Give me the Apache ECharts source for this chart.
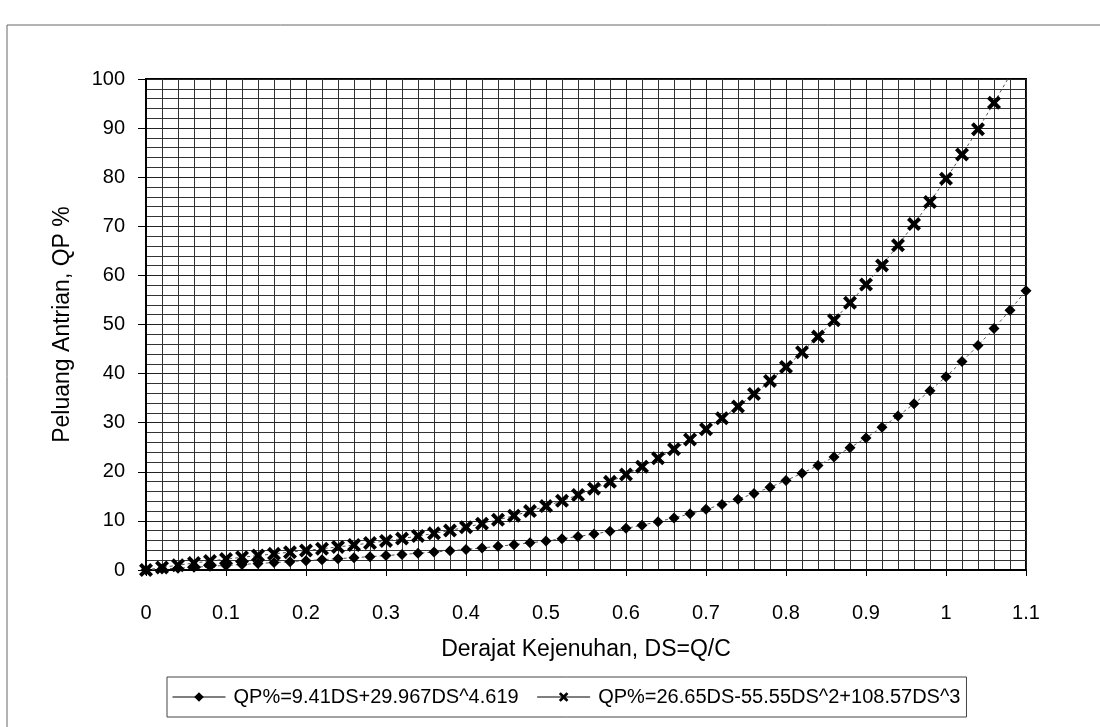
<!DOCTYPE html>
<html>
<head>
<meta charset="utf-8">
<script src="https://cdn.jsdelivr.net/npm/echarts@6/dist/echarts.min.js"></script>
<style>
  html, body { margin: 0; padding: 0; background: #fff; }
  #chart { width: 1100px; height: 727px; }
</style>
</head>
<body>
<div id="chart"></div>
<script>
// Degree of saturation (DS) sample points for each curve
const dsA = [0,0.02,0.04,0.06,0.08,0.10,0.12,0.14,0.16,0.18,0.20,0.22,0.24,0.26,0.28,0.30,0.32,0.34,0.36,0.38,0.40,0.42,0.44,0.46,0.48,0.50,0.52,0.54,0.56,0.58,0.60,0.62,0.64,0.66,0.68,0.70,0.72,0.74,0.76,0.78,0.80,0.82,0.84,0.86,0.88,0.90,0.92,0.94,0.96,0.98,1.00,1.02,1.04,1.06,1.08,1.10];
const qpA = [0,0.19,0.38,0.56,0.75,0.94,1.13,1.32,1.51,1.70,1.90,2.10,2.30,2.51,2.72,2.94,3.17,3.40,3.65,3.92,4.20,4.50,4.82,5.16,5.53,5.92,6.36,6.82,7.33,7.88,8.48,9.13,9.84,10.61,11.45,12.36,13.35,14.42,15.59,16.85,18.22,19.70,21.30,23.02,24.89,26.89,29.05,31.36,33.85,36.52,39.38,42.44,45.71,49.20,52.92,56.89];

const dsB = [0,0.02,0.04,0.06,0.08,0.10,0.12,0.14,0.16,0.18,0.20,0.22,0.24,0.26,0.28,0.30,0.32,0.34,0.36,0.38,0.40,0.42,0.44,0.46,0.48,0.50,0.52,0.54,0.56,0.58,0.60,0.62,0.64,0.66,0.68,0.70,0.72,0.74,0.76,0.78,0.80,0.82,0.84,0.86,0.88,0.90,0.92,0.94,0.96,0.98,1.00,1.02,1.04,1.06];
const qpB = [0,0.51,0.98,1.42,1.83,2.22,2.59,2.94,3.29,3.63,3.98,4.33,4.70,5.08,5.49,5.93,6.40,6.91,7.46,8.06,8.72,9.44,10.22,11.07,12.00,13.01,14.10,15.29,16.57,17.95,19.44,21.05,22.76,24.61,26.58,28.68,30.92,33.30,35.83,38.51,41.36,44.36,47.54,50.89,54.42,58.14,62.04,66.14,70.45,74.95,79.67,84.61,89.76,95.14];

// Continuation of the cubic curve past its last point, up to the top edge
const dsBTail = [1.06, 1.08];
const qpBTail = [95.14, 100.77];

const nameA = 'QP%=9.41DS+29.967DS^4.619';
const nameB = 'QP%=26.65DS-55.55DS^2+108.57DS^3';
const xTitle = 'Derajat Kejenuhan, DS=Q/C';
const yTitle = 'Peluang Antrian, QP %';

const FONT = '"Liberation Sans", Arial, sans-serif';
const pairs = (xs, ys) => xs.map((x, i) => [x, ys[i]]);

const crossPath = 'path://M0,2 L2,0 L5,3 L8,0 L10,2 L7,5 L10,8 L8,10 L5,7 L2,10 L0,8 L3,5 Z';

const chart = echarts.init(document.getElementById('chart'), null, { renderer: 'canvas' });

chart.setOption({
  animation: false,
  backgroundColor: '#fff',
  textStyle: { fontFamily: FONT, color: '#000' },
  graphic: [{
    type: 'rect',
    shape: { x: 7, y: 25, width: 1200, height: 800 },
    style: { fill: 'none', stroke: '#666', lineWidth: 1 },
    silent: true,
    z: -1
  }],
  grid: {
    left: 146, right: 74, top: 79, bottom: 157,
    show: true,
    borderColor: '#000',
    borderWidth: 2,
    backgroundColor: '#fff'
  },
  legend: {
    left: 167, top: 677,
    orient: 'horizontal',
    borderColor: '#444', borderWidth: 1,
    padding: [10, 6, 10, 5],
    itemWidth: 53, itemHeight: 12, itemGap: 18,
    lineStyle: { color: '#000', width: 1, type: 'solid' },
    textStyle: { fontFamily: FONT, fontSize: 20, color: '#000', padding: [0, 0, 0, 3] },
    data: [nameA, nameB]
  },
  xAxis: {
    type: 'value',
    min: 0, max: 1.1, interval: 0.1,
    name: xTitle,
    nameLocation: 'middle',
    nameGap: 68,
    nameTextStyle: { fontFamily: FONT, fontSize: 23, color: '#000' },
    axisLine: { show: true, lineStyle: { color: '#000', width: 2 } },
    axisTick: { show: true, inside: false, length: 6, lineStyle: { color: '#000' } },
    axisLabel: { fontFamily: FONT, fontSize: 20, color: '#000', margin: 33 },
    splitLine: { show: true, lineStyle: { color: '#222', width: 1 } },
    minorTick: { show: false, splitNumber: 5 },
    minorSplitLine: { show: true, lineStyle: { color: '#333', width: 1 } }
  },
  yAxis: {
    type: 'value',
    min: 0, max: 100, interval: 10,
    name: yTitle,
    nameLocation: 'middle',
    nameGap: 72,
    nameRotate: 90,
    nameTextStyle: { fontFamily: FONT, fontSize: 23, color: '#000' },
    axisLine: { show: true, lineStyle: { color: '#000', width: 2 } },
    axisTick: { show: true, inside: false, length: 8, lineStyle: { color: '#000' } },
    axisLabel: { fontFamily: FONT, fontSize: 20, color: '#000', margin: 21 },
    splitLine: { show: true, lineStyle: { color: '#222', width: 1 } },
    minorTick: { show: false, splitNumber: 5 },
    minorSplitLine: { show: true, lineStyle: { color: '#333', width: 1 } }
  },
  series: [
    {
      name: nameA,
      type: 'line',
      data: pairs(dsA, qpA),
      symbol: 'diamond',
      symbolSize: 11,
      itemStyle: { color: '#000' },
      lineStyle: { color: '#555', width: 1, type: [3, 3] },
      clip: true,
      z: 3
    },
    {
      name: nameB,
      type: 'line',
      data: pairs(dsB, qpB),
      symbol: crossPath,
      symbolSize: 14,
      itemStyle: { color: '#000' },
      lineStyle: { color: '#555', width: 1, type: [3, 3] },
      clip: true,
      z: 3
    },
    {
      name: 'tail',
      type: 'line',
      data: pairs(dsBTail, qpBTail),
      symbol: 'none',
      lineStyle: { color: '#555', width: 1, type: [3, 3] },
      clip: true,
      silent: true,
      z: 2
    }
  ]
});
</script>
</body>
</html>
